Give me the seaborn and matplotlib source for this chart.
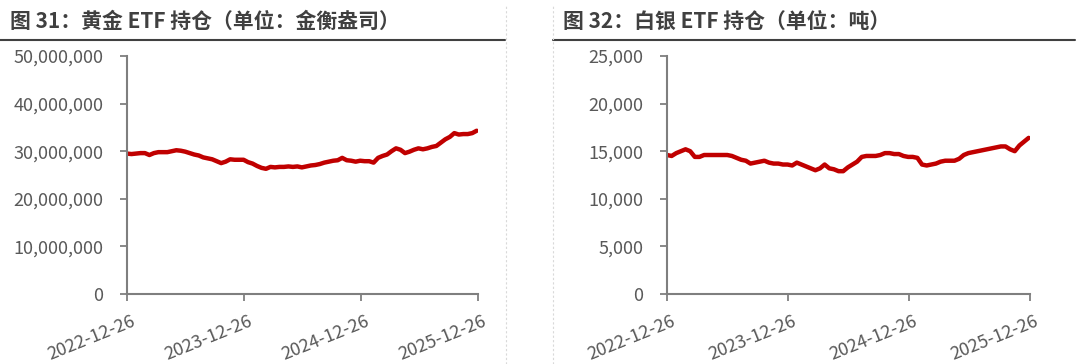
import pandas as pd
import seaborn as sns
import matplotlib
matplotlib.use("Agg")
from matplotlib import pyplot as plt
from matplotlib.lines import Line2D
from matplotlib.ticker import FuncFormatter
from matplotlib.transforms import ScaledTranslation

# data (two-week steps)
dates = pd.date_range("2022-12-26", periods=79, freq="14D")

gold_mn_oz = [
    29.5, 29.4, 29.5, 29.6, 29.6, 29.2, 29.6, 29.8, 29.8, 29.8,
    30.0, 30.2, 30.1, 29.9, 29.6, 29.3, 29.1, 28.7, 28.5, 28.3,
    27.9, 27.5, 27.8, 28.3, 28.2, 28.2, 28.2, 27.7, 27.4, 26.9,
    26.5, 26.3, 26.7, 26.6, 26.7, 26.7, 26.8, 26.7, 26.8, 26.6,
    26.8, 27.0, 27.1, 27.3, 27.6, 27.8, 28.0, 28.1, 28.6, 28.1,
    28.0, 27.8, 28.0, 27.9, 27.9, 27.6, 28.6, 29.0, 29.3, 30.0,
    30.6, 30.3, 29.6, 29.9, 30.3, 30.6, 30.4, 30.6, 30.9, 31.1,
    31.8, 32.5, 33.0, 33.8, 33.5, 33.6, 33.6, 33.8, 34.3,
]

silver_k_t = [
    14.6, 14.5, 14.8, 15.0, 15.2, 15.0, 14.4, 14.4, 14.6, 14.6,
    14.6, 14.6, 14.6, 14.6, 14.5, 14.3, 14.1, 14.0, 13.7, 13.8,
    13.9, 14.0, 13.8, 13.7, 13.7, 13.6, 13.6, 13.5, 13.8, 13.6,
    13.4, 13.2, 13.0, 13.2, 13.6, 13.2, 13.1, 12.9, 12.9, 13.3,
    13.6, 13.9, 14.4, 14.5, 14.5, 14.5, 14.6, 14.8, 14.8, 14.7,
    14.7, 14.5, 14.4, 14.4, 14.3, 13.6, 13.5, 13.6, 13.7, 13.9,
    14.0, 14.0, 14.0, 14.2, 14.6, 14.8, 14.9, 15.0, 15.1, 15.2,
    15.3, 15.4, 15.5, 15.5, 15.2, 15.0, 15.6, 16.0, 16.4,
]

tick_dates = ["2022-12-26", "2023-12-26", "2024-12-26", "2025-12-26"]
titles = ["图 31：黄金 ETF 持仓（单位：金衡盎司）", "图 32：白银 ETF 持仓（单位：吨）"]

df = pd.DataFrame({
    "date": dates,
    "gold": [v * 1e6 for v in gold_mn_oz],
    "silver": [v * 1e3 for v in silver_k_t],
})

sns.set_style("ticks")
plt.rcParams["font.family"] = ["Noto Sans CJK SC", "DejaVu Sans"]

RED = "#C00000"
AXC = "#7F7F7F"
TXT = "#595959"

fig = plt.figure(figsize=(10.8, 3.64), dpi=100)
ax1 = fig.add_axes([127 / 1080, 1 - 294 / 364, 351 / 1080, 238 / 364])
ax2 = fig.add_axes([667 / 1080, 1 - 294 / 364, 363 / 1080, 238 / 364])

setups = [
    (ax1, "gold", 50_000_000, 10_000_000),
    (ax2, "silver", 25_000, 5_000),
]
for ax, col, ymax, step in setups:
    sns.lineplot(data=df, x="date", y=col, ax=ax, color=RED, linewidth=3.2)
    ax.set_xlim(pd.Timestamp(tick_dates[0]), pd.Timestamp(tick_dates[-1]))
    ax.set_ylim(0, ymax)
    ax.set_yticks(range(0, ymax + 1, step))
    ax.yaxis.set_major_formatter(FuncFormatter(lambda v, p: f"{v:,.0f}"))
    ax.set_xticks([pd.Timestamp(d) for d in tick_dates])
    ax.set_xticklabels(tick_dates, rotation=22, ha="right", rotation_mode="anchor")
    ax.set_xlabel("")
    ax.set_ylabel("")
    for s in ["top", "right"]:
        ax.spines[s].set_visible(False)
    for s in ["left", "bottom"]:
        ax.spines[s].set_color(AXC)
        ax.spines[s].set_linewidth(1.5)
    ax.tick_params(axis="both", colors=AXC, length=5, width=1.3, labelsize=13,
                   labelcolor=TXT)
    ax.tick_params(axis="y", pad=12)
    ax.tick_params(axis="x", pad=8)
    for lab in ax.get_xticklabels():
        lab.set_transform(lab.get_transform() + ScaledTranslation(4 / 100, 0, fig.dpi_scale_trans))

# titles and header lines
fig.text(10 / 1080, 1 - 21 / 364, titles[0], fontsize=15, fontweight="bold",
         color="#404040", va="center", ha="left")
fig.text(563 / 1080, 1 - 21 / 364, titles[1], fontsize=15, fontweight="bold",
         color="#404040", va="center", ha="left")
for x0, x1 in [(0, 505), (553, 1075)]:
    fig.add_artist(Line2D([x0 / 1080, x1 / 1080], [1 - 40 / 364] * 2,
                          transform=fig.transFigure, color="#404040", lw=1.5))
for x in [506, 553]:
    fig.add_artist(Line2D([x / 1080] * 2, [0, 1 - 4 / 364], transform=fig.transFigure,
                          color="#D9D9D9", lw=0.8, ls=(0, (2, 2))))

fig.savefig("out.png", dpi=100)
